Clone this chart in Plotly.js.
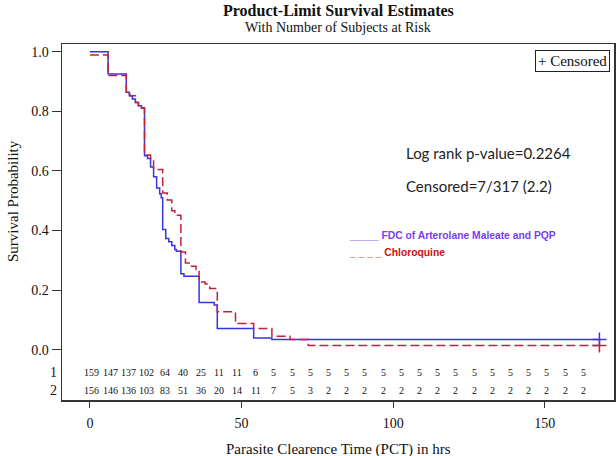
<!DOCTYPE html>
<html><head><meta charset="utf-8">
<script src="https://cdn.plot.ly/plotly-3.0.1.min.js"></script>
<style>html,body{margin:0;padding:0;background:#fff}#chart{width:616px;height:456px}</style>
</head><body><div id="chart"></div>
<script>
// Kaplan-Meier step curves (time in hrs, survival probability)
const fdcTime = [0, 6, 12, 13, 14, 15, 16, 17, 18, 19, 20, 21, 22, 23, 23.5, 24, 25, 26, 27, 28, 28.5, 30, 31, 36, 41, 42, 54, 60, 168];
const fdcSurv = [1.0, 0.925, 0.864, 0.852, 0.841, 0.830, 0.819, 0.812, 0.651, 0.642, 0.613, 0.580, 0.543, 0.523, 0.510, 0.403, 0.373, 0.362, 0.350, 0.336, 0.330, 0.255, 0.246, 0.158, 0.150, 0.071, 0.039, 0.034, 0.034];
const cqTime = [0, 6, 12, 13.2, 15, 16, 17, 18, 20, 21, 24, 25.5, 27, 28, 30, 31.5, 33.5, 35, 36, 38, 39.5, 42, 48, 54, 60, 66, 72, 168];
const cqSurv = [0.989, 0.920, 0.857, 0.852, 0.830, 0.819, 0.810, 0.653, 0.642, 0.605, 0.526, 0.502, 0.466, 0.451, 0.328, 0.291, 0.280, 0.268, 0.227, 0.220, 0.205, 0.127, 0.088, 0.071, 0.045, 0.034, 0.014, 0.014];
const fdcCensorTime = [168];
const fdcCensorSurv = [0.034];
const cqCensorTime = [168];
const cqCensorSurv = [0.014];

// Number of subjects at risk
const riskTimes = [0, 6, 12, 18, 24, 30, 36, 42, 48, 54, 60, 66, 72, 78, 84, 90, 96, 102, 108, 114, 120, 126, 132, 138, 144, 150, 156, 162];
const riskFdc = [159, 147, 137, 102, 64, 40, 25, 11, 11, 6, 5, 5, 5, 5, 5, 5, 5, 5, 5, 5, 5, 5, 5, 5, 5, 5, 5, 5];
const riskCq = [156, 146, 136, 103, 83, 51, 36, 20, 14, 11, 7, 5, 3, 2, 2, 2, 2, 2, 2, 2, 2, 2, 2, 2, 2, 2, 2, 2];
const riskRowLabels = ['1', '2'];

// Axis ticks
const xTickVals = [0, 50, 100, 150];
const yTickVals = [0, 0.2, 0.4, 0.6, 0.8, 1.0];
const yTickText = ['0.0', '0.2', '0.4', '0.6', '0.8', '1.0'];

const titleText = 'Product-Limit Survival Estimates';
const subtitleText = 'With Number of Subjects at Risk';
const xTitle = 'Parasite Clearence Time (PCT) in hrs';
const yTitle = 'Survival Probability';
const statLines = ['Log rank p-value=0.2264', 'Censored=7/317 (2.2)'];
const groupNames = ['FDC of Arterolane Maleate and PQP', 'Chloroquine'];

const BLUE = '#3535e8', RED = '#c42038';
const SERIF = 'Liberation Serif, Times New Roman, serif';
const ROW_Y = [-0.075, -0.137];

const traces = [
  {x: fdcTime, y: fdcSurv, mode: 'lines', line: {shape: 'hv', color: BLUE, width: 1.5}, hoverinfo: 'skip'},
  {x: cqTime, y: cqSurv, mode: 'lines', line: {shape: 'hv', color: RED, width: 1.5, dash: '9px,4px'}, hoverinfo: 'skip'},
  {x: fdcCensorTime, y: fdcCensorSurv, mode: 'markers', marker: {symbol: 'cross-thin', size: 10, line: {color: BLUE, width: 1.5}}},
  {x: cqCensorTime, y: cqCensorSurv, mode: 'markers', marker: {symbol: 'cross-thin', size: 10, line: {color: RED, width: 1.5}}}
];

const ann = [];
riskTimes.forEach((t, i) => {
  ann.push({x: t, y: ROW_Y[0], xref: 'x', yref: 'y', text: String(riskFdc[i]), showarrow: false, xshift: 2,
    font: {family: SERIF, size: 10, color: '#111'}});
  ann.push({x: t, y: ROW_Y[1], xref: 'x', yref: 'y', text: String(riskCq[i]), showarrow: false, xshift: 2,
    font: {family: SERIF, size: 10, color: '#111'}});
});
riskRowLabels.forEach((lab, i) => {
  ann.push({x: -0.006, xref: 'paper', xanchor: 'right', y: ROW_Y[i], yref: 'y', text: lab, showarrow: false,
    font: {family: SERIF, size: 14, color: '#111'}});
});
ann.push({x: 0.5, xref: 'paper', y: 1.0955, yref: 'paper', yanchor: 'middle', text: '<b>' + titleText + '</b>', showarrow: false,
  font: {family: SERIF, size: 16, color: '#111'}});
ann.push({x: 0.5, xref: 'paper', y: 1.045, yref: 'paper', yanchor: 'middle', text: subtitleText, showarrow: false,
  font: {family: SERIF, size: 14, color: '#111'}});
ann.push({x: 0.5, xref: 'paper', y: -0.138, yref: 'paper', yanchor: 'middle', text: xTitle, showarrow: false,
  font: {family: SERIF, size: 15, color: '#111'}});
ann.push({x: -0.09, xref: 'paper', xanchor: 'center', y: 0.5, yref: 'y', yanchor: 'middle', text: yTitle, textangle: -90, showarrow: false,
  font: {family: SERIF, size: 15, color: '#111'}});
// "+ Censored" box
ann.push({x: 0.993, xref: 'paper', xanchor: 'right', y: 0.984, yref: 'paper', yanchor: 'top', text: '+ Censored', showarrow: false,
  bordercolor: '#222', borderwidth: 1, borderpad: 2, bgcolor: '#fff', font: {family: SERIF, size: 15, color: '#111'}});
// statistics
ann.push({x: 0.62, xref: 'paper', xanchor: 'left', y: 0.695, yref: 'paper', yanchor: 'middle', text: statLines[0], showarrow: false,
  font: {family: 'Lato, Carlito, sans-serif', size: 15, color: '#222'}});
ann.push({x: 0.62, xref: 'paper', xanchor: 'left', y: 0.602, yref: 'paper', yanchor: 'middle', text: statLines[1], showarrow: false,
  font: {family: 'Lato, Carlito, sans-serif', size: 15, color: '#222'}});
// group labels
ann.push({x: 0.516, xref: 'paper', xanchor: 'left', y: 0.463, yref: 'paper', yanchor: 'middle', text: '<b>_____ ' + groupNames[0] + '</b>', showarrow: false,
  font: {family: 'Liberation Sans, Arial, sans-serif', size: 10.3, color: '#7b3cf5'}});
ann.push({x: 0.516, xref: 'paper', xanchor: 'left', y: 0.413, yref: 'paper', yanchor: 'middle', text: '<b>_ _ _ _ ' + groupNames[1] + '</b>', showarrow: false,
  font: {family: 'Liberation Sans, Arial, sans-serif', size: 10.3, color: '#cc1111'}});

const axisCommon = {
  showline: true, mirror: true, linecolor: '#333', linewidth: 1.5,
  showgrid: false, zeroline: false, ticks: 'outside', tickcolor: '#333', tickwidth: 1,
  tickfont: {family: SERIF, size: 14, color: '#111'}
};

const layout = {
  width: 616, height: 456,
  margin: {l: 62, r: 2, t: 44, b: 56},
  paper_bgcolor: '#fff', plot_bgcolor: '#fff',
  showlegend: false,
  xaxis: Object.assign({}, axisCommon, {range: [-9.2, 172.8], tickvals: xTickVals, ticklen: 6, ticklabelstandoff: 4}),
  yaxis: Object.assign({}, axisCommon, {range: [-0.169, 1.026], tickvals: yTickVals, ticktext: yTickText, ticklen: 9}),
  annotations: ann
};

Plotly.newPlot('chart', traces, layout, {staticPlot: true, displayModeBar: false});
</script>
</body></html>
